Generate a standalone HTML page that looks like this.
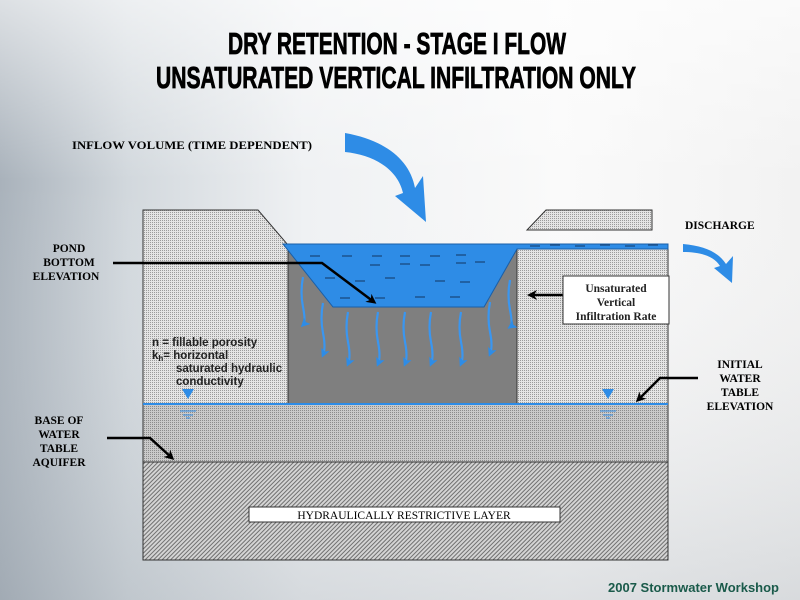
<!DOCTYPE html>
<html><head><meta charset="utf-8"><style>
html,body{margin:0;padding:0;width:800px;height:600px;overflow:hidden}
body{background:linear-gradient(90deg,#a9b2bb 0%,#d2d8dd 16%,#eff1f3 38%,#fafafa 70%,#f2f2f2 100%)}
</style></head><body>
<svg width="800" height="600" viewBox="0 0 800 600" xmlns="http://www.w3.org/2000/svg" style="position:absolute;left:0;top:0">
<defs>
<pattern id="dots" width="2" height="2" patternUnits="userSpaceOnUse"><rect width="2" height="2" fill="#e4e4e4"/><rect width="1" height="1" fill="#9a9a9a"/></pattern>
<pattern id="dots2" width="2" height="2" patternUnits="userSpaceOnUse"><rect width="2" height="2" fill="#cacaca"/><rect width="1" height="1" fill="#8c8c8c"/></pattern>
<pattern id="hatch" width="3" height="3" patternUnits="userSpaceOnUse" patternTransform="rotate(45)"><rect width="3" height="3" fill="#d4d4d4"/><rect width="1" height="3" fill="#707070"/></pattern>
<linearGradient id="bgl" x1="0" y1="0" x2="0" y2="1"><stop offset="0" stop-color="#fff" stop-opacity="0.6"/><stop offset="0.3" stop-color="#fff" stop-opacity="0"/><stop offset="1" stop-color="#8a949e" stop-opacity="0.25"/></linearGradient>
<marker id="ah" markerWidth="10" markerHeight="10" refX="7" refY="5" orient="auto" markerUnits="userSpaceOnUse"><path d="M0,0 L10,5 L0,10 L3,5 Z" fill="#000"/></marker>
<marker id="bh" markerWidth="9" markerHeight="9" refX="6" refY="4.5" orient="auto" markerUnits="userSpaceOnUse"><path d="M0,0 L9,4.5 L0,9 L2,4.5 Z" fill="#2e8ce6"/></marker>
</defs>
<rect width="800" height="600" fill="url(#bgl)"/>
<g font-family="'Liberation Sans Narrow','Liberation Sans',sans-serif" font-weight="bold" text-anchor="middle" fill="#000" stroke="#000" stroke-width="0.8">
<text x="397" y="54" font-size="31" textLength="338" lengthAdjust="spacingAndGlyphs">DRY RETENTION - STAGE I FLOW</text>
<text x="396" y="88" font-size="31" textLength="480" lengthAdjust="spacingAndGlyphs">UNSATURATED VERTICAL INFILTRATION ONLY</text>
</g>
<rect x="143" y="462" width="525" height="98" fill="url(#hatch)" stroke="#333" stroke-width="1"/>
<rect x="143" y="404" width="525" height="58" fill="url(#dots2)" stroke="#333" stroke-width="1"/>
<path d="M143,210 L258,210 L288,245 L288,404 L143,404 Z" fill="url(#dots)" stroke="#333"/>
<rect x="517" y="249" width="151" height="155" fill="url(#dots)" stroke="#333"/>
<path d="M546,210 L652,210 L652,230 L527,230 Z" fill="url(#dots)" stroke="#333"/>
<rect x="288" y="245" width="229" height="159" fill="#7f7f7f" stroke="#333"/>
<path d="M283,244 L668,244 L668,249 L517,249 L484,307 L333,307 Z" fill="#2e8ce6" stroke="#1a5fa8" stroke-width="1"/>
<g stroke="#1a4a80" stroke-width="1.3">
<line x1="310" y1="256" x2="320" y2="256"/><line x1="342" y1="256" x2="352" y2="256"/><line x1="372" y1="256" x2="382" y2="256"/><line x1="400" y1="256" x2="410" y2="256"/><line x1="430" y1="256" x2="440" y2="256"/><line x1="456" y1="255" x2="466" y2="255"/>
<line x1="370" y1="265" x2="380" y2="265"/><line x1="400" y1="264" x2="410" y2="264"/><line x1="420" y1="265" x2="430" y2="265"/><line x1="456" y1="263" x2="466" y2="263"/><line x1="475" y1="262" x2="485" y2="262"/>
<line x1="325" y1="278" x2="335" y2="278"/><line x1="355" y1="281" x2="365" y2="281"/><line x1="385" y1="278" x2="395" y2="278"/><line x1="435" y1="281" x2="445" y2="281"/><line x1="460" y1="282" x2="470" y2="282"/>
<line x1="340" y1="298" x2="350" y2="298"/><line x1="375" y1="298" x2="385" y2="298"/><line x1="415" y1="297" x2="425" y2="297"/><line x1="450" y1="297" x2="460" y2="297"/>
<line x1="530" y1="246" x2="540" y2="246"/><line x1="550" y1="245" x2="560" y2="245"/><line x1="575" y1="246" x2="585" y2="246"/><line x1="600" y1="245" x2="610" y2="245"/><line x1="625" y1="246" x2="635" y2="246"/><line x1="648" y1="245" x2="658" y2="245"/>
</g>
<g fill="none" stroke="#3a96f0" stroke-width="2.2" marker-end="url(#bh)">
<path d="M303,277 q-3,15 0,30 t0,18"/>
<path d="M323,303 q-3,15 0,30 t0,22"/>
<path d="M348,312 q-3,15 0,30 t0,22"/>
<path d="M378,312 q-3,15 0,30 t0,22"/>
<path d="M405,312 q-3,15 0,30 t0,22"/>
<path d="M431,312 q-3,15 0,30 t0,22"/>
<path d="M461,312 q-3,15 0,30 t0,22"/>
<path d="M490,302 q-3,15 0,30 t0,22"/>
<path d="M510,280 q-3,15 0,30 t0,17"/>
</g>
<line x1="143" y1="404" x2="668" y2="404" stroke="#2e8ce6" stroke-width="2"/>
<g fill="#2e8ce6"><path d="M182,389 L194,389 L188,399 Z"/><path d="M602,389 L614,389 L608,399 Z"/></g>
<g stroke="#2e8ce6" stroke-width="1"><line x1="180" y1="411" x2="196" y2="411"/><line x1="183" y1="415" x2="193" y2="415"/><line x1="186" y1="418" x2="190" y2="418"/>
<line x1="600" y1="411" x2="616" y2="411"/><line x1="603" y1="415" x2="613" y2="415"/><line x1="606" y1="418" x2="610" y2="418"/></g>
<path d="M345,133 C385,140 410,160 415,188 L423,176 L426,222 L395,196 L403,193 C398,170 375,155 345,152 Z" fill="#2e8ce6"/>
<path d="M683,244 C705,246 718,252 726,264 L733,256 L732,283 L714,268 L720,266 C714,256 700,252 683,252 Z" fill="#2e8ce6"/>
<g font-family="'Liberation Serif',serif" font-weight="bold" font-size="11.5" fill="#000">
<text x="72" y="149" textLength="240" lengthAdjust="spacingAndGlyphs">INFLOW VOLUME (TIME DEPENDENT)</text>
<text x="685" y="229">DISCHARGE</text>
<g text-anchor="middle"><text x="69" y="252">POND</text><text x="69" y="266">BOTTOM</text><text x="66" y="280">ELEVATION</text>
<text x="740" y="368">INITIAL</text><text x="740" y="382">WATER</text><text x="740" y="396">TABLE</text><text x="740" y="410">ELEVATION</text>
<text x="59" y="424">BASE OF</text><text x="59" y="438">WATER</text><text x="59" y="452">TABLE</text><text x="59" y="466">AQUIFER</text></g>
</g>
<g fill="none" stroke="#000" stroke-width="2.5">
<path d="M113,263 L322,263 L374,302" marker-end="url(#ah)"/>
<path d="M563,295 L530,295" marker-end="url(#ah)"/>
<path d="M698,378 L660,378 L638,400" marker-end="url(#ah)"/>
<path d="M107,438 L150,438 L172,458" marker-end="url(#ah)"/>
</g>
<rect x="563" y="276" width="106" height="48" fill="#fff" stroke="#333"/>
<g font-family="'Liberation Serif',serif" font-weight="bold" font-size="11.5" text-anchor="middle" fill="#222">
<text x="616" y="292">Unsaturated</text><text x="616" y="306">Vertical</text><text x="616" y="320">Infiltration Rate</text></g>
<g font-family="'Liberation Sans',sans-serif" font-weight="bold" font-size="11.5" fill="#222">
<text x="152" y="346">n = fillable porosity</text>
<text x="152" y="359">k<tspan font-size="8" dy="2">h</tspan><tspan dy="-2">= horizontal</tspan></text>
<text x="176" y="372">saturated hydraulic</text>
<text x="176" y="385">conductivity</text>
</g>
<rect x="249" y="507" width="311" height="15" fill="#fff" stroke="#333"/>
<text x="404" y="519" font-family="'Liberation Serif',serif" font-size="11.5" text-anchor="middle" fill="#000">HYDRAULICALLY RESTRICTIVE LAYER</text>
<text x="779" y="592" font-family="'Liberation Sans Narrow','Liberation Sans',sans-serif" font-weight="bold" font-size="13" text-anchor="end" fill="#1a5a4a">2007 Stormwater Workshop</text>
</svg>
</body></html>
